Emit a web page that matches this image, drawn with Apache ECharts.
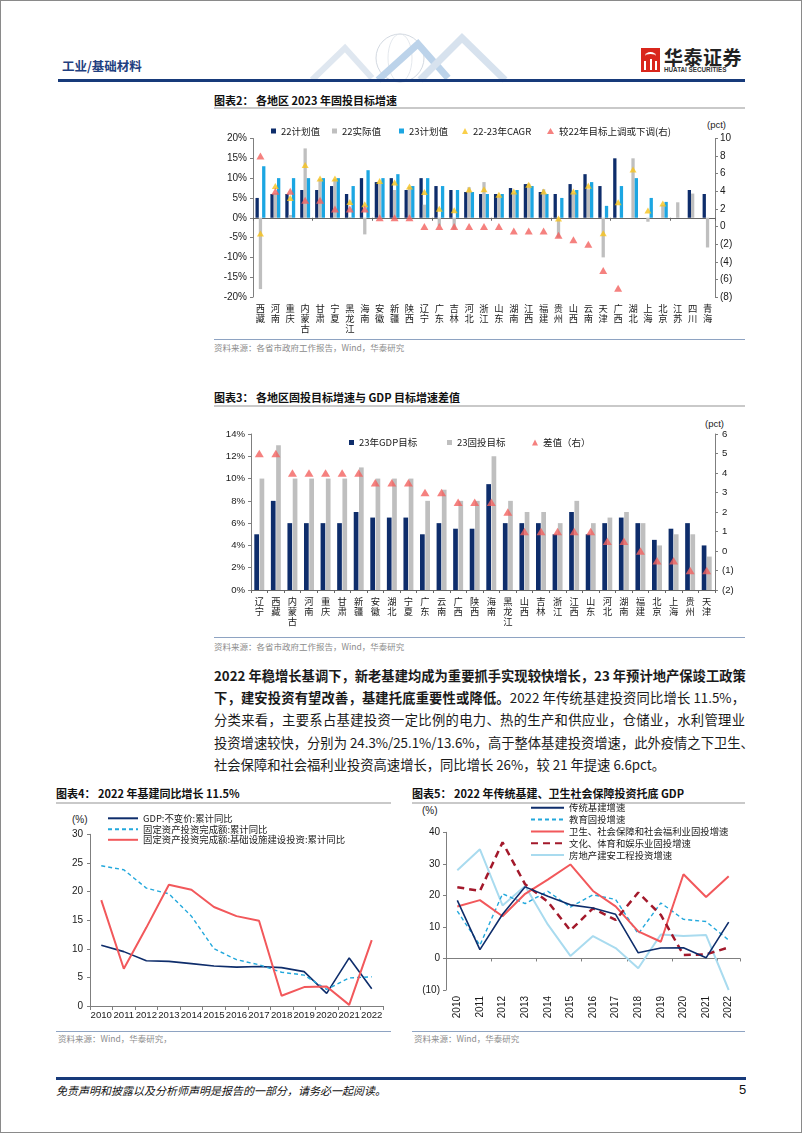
<!DOCTYPE html>
<html><head><meta charset="utf-8">
<script src="https://cdn.jsdelivr.net/npm/echarts/dist/echarts.min.js"></script>
<style>
html,body{margin:0;padding:0;background:#fff;}
#page{position:relative;width:802px;height:1133px;overflow:hidden;background:#fff;font-family:"Noto Sans CJK SC",sans-serif;}
.abs{position:absolute;white-space:nowrap;}
.frame{position:absolute;left:0;top:0;width:802px;height:1133px;box-sizing:border-box;border:1.5px solid #8a8a8a;}
.ttl{font-size:11px;font-weight:bold;color:#111;line-height:14px;}
.uline{position:absolute;height:1.5px;background:#c9c9c9;}
.sline{position:absolute;height:1px;background:#8ea3c2;}
.src{font-size:8.5px;color:#8c8c8c;line-height:12px;}
.para{position:absolute;left:214px;width:531px;font-size:13.3px;line-height:18px;color:#1a1a1a;text-align:justify;text-align-last:justify;white-space:nowrap;}
.para.last{text-align-last:left;}
.unit{font-family:"Liberation Sans",sans-serif;font-size:9.5px;color:#222;line-height:12px;}
#chart{position:absolute;left:0;top:0;width:802px;height:1133px;}
</style></head>
<body><div id="page">
<svg class="abs" style="left:0;top:0" width="802" height="90">
  <circle cx="400" cy="58" r="24" fill="none" stroke="#d3d9e1" stroke-width="1"/>
  <ellipse cx="400" cy="58" rx="12" ry="24" fill="none" stroke="#dde2e8" stroke-width="0.8"/>
  <polyline points="312,80 345,48 372,78" fill="none" stroke="#dfe7f0" stroke-width="6"/>
  <polyline points="378,80 418,44 448,78" fill="none" stroke="#bcd3ea" stroke-width="7"/>
  <polyline points="420,80 462,38 505,80" fill="none" stroke="#d7e2ee" stroke-width="7"/>
</svg>
<div class="abs" style="left:62px;top:58px;font-size:12.5px;font-weight:bold;color:#1f3f80;line-height:16px;">工业/基础材料</div>
<div class="abs" style="left:58px;top:79px;width:687px;height:3px;background:#173a7a;"></div>
<div class="abs" style="left:641px;top:48px;width:19px;height:24px;background:#d9261c;"></div>
<div class="abs" style="left:645px;top:52px;width:11px;height:6px;border-top:2px solid #fff;border-radius:50% 50% 0 0;"></div>
<div class="abs" style="left:644px;top:61px;width:2px;height:9px;background:#fff;"></div>
<div class="abs" style="left:649.5px;top:59px;width:2px;height:11px;background:#fff;"></div>
<div class="abs" style="left:655px;top:61px;width:2px;height:9px;background:#fff;"></div>
<div class="abs" style="left:664px;top:46px;font-size:19px;font-weight:bold;color:#222;line-height:22px;letter-spacing:0.5px;">华泰证券</div>
<div class="abs" style="left:664px;top:66px;font-size:6.3px;font-weight:bold;color:#333;line-height:8px;font-family:'Liberation Sans',sans-serif;">HUATAI SECURITIES</div>

<div class="abs ttl" style="left:214px;top:93px;">图表2：&nbsp;各地区 2023 年固投目标增速</div>
<div class="uline" style="left:214px;top:107px;width:531px;"></div>
<div class="abs unit" style="left:707px;top:119px;">(pct)</div>
<div class="sline" style="left:214px;top:339px;width:531px;"></div>
<div class="abs src" style="left:214px;top:341px;">资料来源：各省市政府工作报告，Wind，华泰研究</div>

<div class="abs ttl" style="left:214px;top:390px;">图表3：&nbsp;各地区固投目标增速与 GDP 目标增速差值</div>
<div class="uline" style="left:214px;top:405px;width:531px;"></div>
<div class="abs unit" style="left:705px;top:418px;">(pct)</div>
<div class="sline" style="left:214px;top:637px;width:531px;"></div>
<div class="abs src" style="left:214px;top:640px;">资料来源：各省市政府工作报告，Wind，华泰研究</div>

<div class="para" style="top:667px;font-weight:bold;">2022 年稳增长基调下，新老基建均成为重要抓手实现较快增长，23 年预计地产保竣工政策</div>
<div class="para" style="top:689px;"><b>下，建安投资有望改善，基建托底重要性或降低。</b>2022 年传统基建投资同比增长 11.5%，</div>
<div class="para" style="top:711px;">分类来看，主要系占基建投资一定比例的电力、热的生产和供应业，仓储业，水利管理业</div>
<div class="para" style="top:734px;">投资增速较快，分别为 24.3%/25.1%/13.6%，高于整体基建投资增速，此外疫情之下卫生、</div>
<div class="para last" style="top:756px;">社会保障和社会福利业投资高速增长，同比增长 26%，较 21 年提速 6.6pct。</div>

<div class="abs ttl" style="left:56px;top:786px;">图表4：&nbsp;2022 年基建同比增长 11.5%</div>
<div class="uline" style="left:56px;top:802px;width:335px;"></div>
<div class="abs unit" style="left:72px;top:814px;font-size:10px;">(%)</div>
<div class="sline" style="left:56px;top:1031px;width:335px;"></div>
<div class="abs src" style="left:58px;top:1032px;">资料来源：Wind，华泰研究，</div>

<div class="abs ttl" style="left:412px;top:786px;">图表5：&nbsp;2022 年传统基建、卫生社会保障投资托底 GDP</div>
<div class="uline" style="left:412px;top:802px;width:333px;"></div>
<div class="abs unit" style="left:422px;top:805px;font-size:10px;">(%)</div>
<div class="sline" style="left:412px;top:1031px;width:333px;"></div>
<div class="abs src" style="left:414px;top:1032px;">资料来源：Wind，华泰研究</div>

<div class="abs" style="left:56px;top:1077px;width:690px;height:2.5px;background:#173a7a;"></div>
<div class="abs" style="left:56px;top:1083px;font-size:11px;font-style:italic;color:#111;line-height:14px;">免责声明和披露以及分析师声明是报告的一部分，请务必一起阅读。</div>
<div class="abs" style="left:739px;top:1082px;font-size:13px;color:#111;line-height:16px;font-family:'Liberation Sans',sans-serif;">5</div>

<div id="chart"></div>
<div class="frame"></div>
</div>
<script>
// ---------- Chart 2 data ----------
const regions2 = ['西藏','河南','重庆','内蒙古','甘肃','宁夏','黑龙江','海南','安徽','新疆','陕西','辽宁','广东','吉林','河北','浙江','山东','湖南','江西','福建','贵州','山西','云南','天津','广西','湖北','上海','北京','江苏','四川','青海'];
const plan22   = [5,6,6,7,7,8,6,10,9,10,7,10,8,7,6.5,6,6,7.5,8.5,6.5,6,8.5,11,8,15,null,null,null,null,7,6];
const actual22 = [-18,6.2,0.7,17.5,9.8,9.8,0.2,-4.2,8.6,7,7.8,3.3,-2,-3,7.7,9,5.6,6.2,8.6,7.2,-5,6.2,7.2,-10,0,15,-1,3.2,3.9,6.1,-7.5];
const plan23   = [13,10,10,10,10,10,8,12,10,11,8,10,8,7,6.5,6,6,7,8,6,5,7,9,3,8,10,5,4,null,null,null];
const cagr2223 = [-4,8,5,13.3,9.9,9.9,4,3.4,9.3,8.9,7.9,6.5,2.3,1.9,7.1,7.2,5.8,6.6,8.3,6.6,-0.2,6.6,8.1,-3.9,3.9,12.2,1.8,3.6,null,null,null];
const adjust22 = [8,4,4,3,3,2,2,2,1,1,1,0,0,0,0,0,0,-0.5,-0.5,-0.5,-1,-1.5,-2,-5,-7,null,null,null,null,null,null];
// ---------- Chart 3 data ----------
const regions3  = ['辽宁','西藏','内蒙古','河南','重庆','甘肃','新疆','安徽','湖北','宁夏','广东','云南','广西','陕西','海南','黑龙江','山西','吉林','浙江','江西','山东','河北','湖南','福建','北京','上海','贵州','天津'];
const gdpTarget = [5,8,6,6,6,6,7,6.5,6.5,6.5,5,6,5.5,5.5,9.5,6,6,6,5,7,5,6,6.5,6,4.5,5.5,6,4];
const faiTarget = [10,13,10,10,10,10,11,10,10,10,8,9,8,8,12,8,7,7,6,8,6,6.5,7,6,4,5,5,3];
const gapValue  = [5,5,4,4,4,4,4,3.5,3.5,3.5,3,3,2.5,2.5,2.5,2,1,1,1,1,1,0.5,0.5,0,-0.5,-0.5,-1,-1];
// ---------- Chart 4 data ----------
const years = ['2010','2011','2012','2013','2014','2015','2016','2017','2018','2019','2020','2021','2022'];
const gdpYoY   = [10.6,9.5,7.9,7.8,7.4,7.0,6.8,6.9,6.7,6.0,2.2,8.4,3.0];
const faiYoY   = [24.5,23.8,20.6,19.6,15.7,10.0,8.1,7.2,5.9,5.4,2.9,4.9,5.1];
const infraYoY = [18.5,6.5,13.7,21.2,20.3,17.3,15.7,14.9,1.8,3.3,3.4,0.2,11.5];
// ---------- Chart 5 data ----------
const tradInfra  = [18.4,2.8,14.0,22.7,19.7,17.0,16.0,14.0,1.8,3.3,3.4,0.2,11.5];
const eduFAI     = [15.0,4.2,20.5,17.4,21.3,16.3,20.2,18.7,7.8,17.6,12.4,11.7,5.8];
const healthFAI  = [16.5,18.5,13.4,20.5,25.0,29.8,21.4,16.5,8.6,5.3,26.7,19.5,26.1];
const cultureFAI = [22.6,21.4,36.8,23.5,18.0,8.9,15.9,12.2,20.9,13.8,1.1,1.3,3.5];
const realEstate = [28.0,34.6,16.8,23.0,10.8,0.8,7.1,3.3,-3.1,7.6,7.1,7.4,-10.0];

const LAT = '"Liberation Sans","Noto Sans CJK SC",sans-serif';
const CJK = '"Noto Sans CJK SC",sans-serif';
const NAVY='#0e2d6b', GRAY='#bfbfbf', BLUE='#1ca6e2', YEL='#f7c31c', RED='#f2625f';
const AX='#7f7f7f', TXT='#1a1a1a';
const neg = v => v < 0 ? '(' + Math.abs(v) + ')' : String(v);
const vert = v => v.split('').join('\n');

const chart = echarts.init(document.getElementById('chart'), null, {renderer:'canvas'});

function lg(name, left, cy, icon, w, h, fs){
  return {data:[name], left:left, top:cy-6, padding:0, itemGap:0, selectedMode:false,
    icon:icon, itemWidth:w, itemHeight:h,
    textStyle:{fontSize:fs||9.5, color:'#1a1a1a', fontFamily:CJK, lineHeight:12}};
}
function lineLg(name, left, cy, w){
  return {data:[name], left:left, top:cy-6, padding:0, itemGap:0, selectedMode:false,
    itemWidth:w, itemHeight:10, itemStyle:{opacity:0},
    textStyle:{fontSize:9.4, color:'#1a1a1a', fontFamily:CJK, lineHeight:12}};
}
function valAxis(grid, min, max, interval, fmt, pos, fs, margin){
  return {type:'value', gridIndex:grid, min:min, max:max, interval:interval, position:pos||'left',
    axisLine:{show:true, lineStyle:{color:AX, width:1}},
    axisTick:{show:true, length:3, lineStyle:{color:AX}},
    splitLine:{show:false},
    axisLabel:{formatter:fmt, color:TXT, fontSize:fs||10, fontFamily:LAT, margin:margin||6}};
}

const option = {
  animation:false,
  grid:[
    {left:253, top:138.5, width:462, height:158.5, outerBoundsMode:'none'},
    {left:251, top:434, width:464, height:156, outerBoundsMode:'none'},
    {left:90, top:834.3, width:293, height:171.7, outerBoundsMode:'none'},
    {left:446, top:832.3, width:294, height:157.7, outerBoundsMode:'none'}
  ],
  legend:[
    lg('22计划值', 271, 131, 'rect', 5, 5),
    lg('22实际值', 332, 131, 'rect', 5, 5),
    lg('23计划值', 399, 131, 'rect', 5, 5),
    lg('22-23年CAGR', 462, 131, 'triangle', 6, 6),
    lg('较22年目标上调或下调(右)', 547, 131, 'triangle', 7, 6),
    lg('23年GDP目标', 349, 442.5, 'rect', 5, 5),
    lg('23固投目标', 447, 442.5, 'rect', 5, 5),
    lg('差值（右）', 532, 442.5, 'triangle', 6, 6),
    lineLg('GDP:不变价:累计同比', 107, 818.3, 30),
    lineLg('固定资产投资完成额:累计同比', 107, 829.3, 30),
    lineLg('固定资产投资完成额:基础设施建设投资:累计同比', 107, 839.8, 30),
    lineLg('传统基建增速', 530, 807.7, 33),
    lineLg('教育固投增速', 530, 819.6, 33),
    lineLg('卫生、社会保障和社会福利业固投增速', 530, 831.5, 33),
    lineLg('文化、体育和娱乐业固投增速', 530, 843.3, 33),
    lineLg('房地产建安工程投资增速', 530, 855.1, 33)
  ],
  xAxis:[
    {type:'category', gridIndex:0, data:regions2, position:'bottom',
      axisLine:{show:true, onZero:true, onZeroAxisIndex:0, lineStyle:{color:'#666'}},
      axisTick:{show:true, length:3, lineStyle:{color:'#666'}}, axisLabel:{show:false}},
    {type:'category', gridIndex:0, data:regions2, position:'bottom',
      axisLine:{show:false, onZero:false}, axisTick:{show:false},
      axisLabel:{interval:0, formatter:vert, fontSize:9.3, lineHeight:10, color:TXT, fontFamily:CJK, margin:6}},
    {type:'category', gridIndex:1, data:regions3, position:'bottom',
      axisLine:{show:true, lineStyle:{color:'#666'}},
      axisTick:{show:true, length:3, lineStyle:{color:'#666'}},
      axisLabel:{interval:0, formatter:vert, fontSize:9.3, lineHeight:10, color:TXT, fontFamily:CJK, margin:6}},
    {type:'category', gridIndex:2, data:years, position:'bottom',
      axisLine:{show:true, lineStyle:{color:AX}},
      axisTick:{show:true, length:4, lineStyle:{color:AX}},
      axisLabel:{interval:0, fontSize:9.6, color:TXT, fontFamily:LAT, margin:5}},
    {type:'category', gridIndex:3, data:years, position:'bottom',
      axisLine:{show:true, onZero:true, lineStyle:{color:AX}},
      axisTick:{show:true, length:3, lineStyle:{color:AX}}, axisLabel:{show:false}},
    {type:'category', gridIndex:3, data:years, position:'bottom',
      axisLine:{show:false, onZero:false}, axisTick:{show:false},
      axisLabel:{interval:0, rotate:90, fontSize:10, color:TXT, fontFamily:LAT, margin:6}}
  ],
  yAxis:[
    valAxis(0, -20, 20, 5, '{value}%', 'left', 10, 6),
    valAxis(0, -8, 10, 2, neg, 'right', 10, 5),
    valAxis(1, 0, 14, 2, '{value}%', 'left', 9.6, 6),
    valAxis(1, -2, 6, 1, neg, 'right', 9.6, 7),
    valAxis(2, 0, 30, 5, '{value}', 'left', 10, 7),
    valAxis(3, -10, 40, 10, neg, 'left', 10, 6)
  ],
  series:[
    {name:'22计划值', type:'bar', xAxisIndex:0, yAxisIndex:0, data:plan22, barWidth:3.3, barGap:'0%', itemStyle:{color:NAVY}},
    {name:'22实际值', type:'bar', xAxisIndex:0, yAxisIndex:0, data:actual22, barWidth:3.3, barGap:'0%', itemStyle:{color:GRAY}},
    {name:'23计划值', type:'bar', xAxisIndex:0, yAxisIndex:0, data:plan23, barWidth:3.3, barGap:'0%', itemStyle:{color:BLUE}},
    {name:'22-23年CAGR', type:'scatter', xAxisIndex:0, yAxisIndex:0, data:cagr2223, symbol:'triangle', symbolSize:[7,6], itemStyle:{color:YEL}, z:5},
    {name:'较22年目标上调或下调(右)', type:'scatter', xAxisIndex:0, yAxisIndex:1, data:adjust22, symbol:'triangle', symbolSize:[8,7], itemStyle:{color:RED}, z:6},

    {name:'23年GDP目标', type:'bar', xAxisIndex:2, yAxisIndex:2, data:gdpTarget, barWidth:4.7, barGap:'12%', itemStyle:{color:NAVY}},
    {name:'23固投目标', type:'bar', xAxisIndex:2, yAxisIndex:2, data:faiTarget, barWidth:4.7, barGap:'12%', itemStyle:{color:GRAY}},
    {name:'差值（右）', type:'scatter', xAxisIndex:2, yAxisIndex:3, data:gapValue, symbol:'triangle', symbolSize:[9,7.5], itemStyle:{color:RED}, z:6},

    {name:'GDP:不变价:累计同比', type:'line', xAxisIndex:3, yAxisIndex:4, data:gdpYoY, symbol:'none', lineStyle:{color:NAVY, width:1.6}, itemStyle:{color:NAVY}},
    {name:'固定资产投资完成额:累计同比', type:'line', xAxisIndex:3, yAxisIndex:4, data:faiYoY, symbol:'none', lineStyle:{color:'#22a8dc', width:1.4, type:[4,3]}, itemStyle:{color:'#22a8dc'}},
    {name:'固定资产投资完成额:基础设施建设投资:累计同比', type:'line', xAxisIndex:3, yAxisIndex:4, data:infraYoY, symbol:'none', lineStyle:{color:'#f2585b', width:2}, itemStyle:{color:'#f2585b'}},

    {name:'传统基建增速', type:'line', xAxisIndex:4, yAxisIndex:5, data:tradInfra, symbol:'none', lineStyle:{color:NAVY, width:1.6}, itemStyle:{color:NAVY}, z:5},
    {name:'教育固投增速', type:'line', xAxisIndex:4, yAxisIndex:5, data:eduFAI, symbol:'none', lineStyle:{color:'#22a8dc', width:1.4, type:[4,3]}, itemStyle:{color:'#22a8dc'}},
    {name:'卫生、社会保障和社会福利业固投增速', type:'line', xAxisIndex:4, yAxisIndex:5, data:healthFAI, symbol:'none', lineStyle:{color:'#f2585b', width:2}, itemStyle:{color:'#f2585b'}},
    {name:'文化、体育和娱乐业固投增速', type:'line', xAxisIndex:4, yAxisIndex:5, data:cultureFAI, symbol:'none', lineStyle:{color:'#a3192b', width:2.5, type:[7,5]}, itemStyle:{color:'#a3192b'}},
    {name:'房地产建安工程投资增速', type:'line', xAxisIndex:4, yAxisIndex:5, data:realEstate, symbol:'none', lineStyle:{color:'#a9dbef', width:2}, itemStyle:{color:'#a9dbef'}, z:1}
  ]
};
chart.setOption(option);
</script>
</body></html>
